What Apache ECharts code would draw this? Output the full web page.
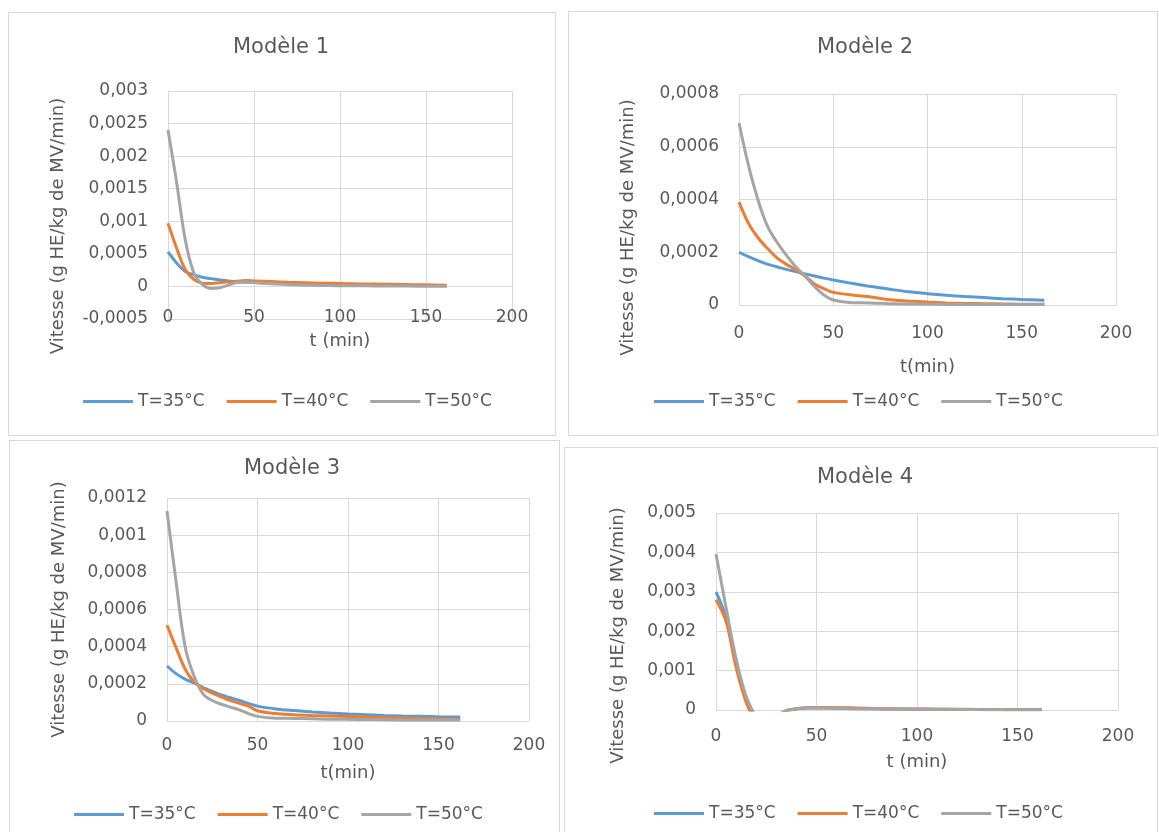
<!DOCTYPE html>
<html>
<head>
<meta charset="utf-8">
<script src="https://cdn.jsdelivr.net/npm/echarts@6/dist/echarts.min.js"></script>
<style>
  html, body { margin: 0; padding: 0; background: #ffffff; }
  body { width: 1159px; height: 832px; position: relative; overflow: hidden; }
  .panel { position: absolute; border: 1px solid #d9d9d9; box-sizing: border-box; background: #fff; }
</style>
</head>
<body>
<div id="p1" class="panel" style="left:8px;top:12px;width:548px;height:424px;"></div>
<div id="p2" class="panel" style="left:568px;top:11px;width:590px;height:425px;"></div>
<div id="p3" class="panel" style="left:9px;top:440px;width:551px;height:400px;"></div>
<div id="p4" class="panel" style="left:564px;top:447px;width:594px;height:400px;"></div>
<script>
// ---- data ----
const seriesNames = ['T=35°C', 'T=40°C', 'T=50°C'];
const titles = ['Modèle 1', 'Modèle 2', 'Modèle 3', 'Modèle 4'];
const xNames = ['t (min)', 't(min)', 't(min)', 't (min)'];
const yName = 'Vitesse (g HE/kg de MV/min)';
const t = [0, 5, 10, 15, 20, 25, 30, 35, 40, 45, 50, 60, 70, 80, 90, 100, 110, 120, 130, 140, 150, 162];

const m1_35 = [0.00053, 0.00036, 0.00023, 0.00018, 0.00014, 0.00012, 0.0001, 0.000085, 0.00007, 0.000065, 0.00006, 0.00005, 0.000045, 0.00004, 0.000035, 0.00003, 0.000027, 0.000024, 0.00002, 0.000017, 0.000014, 0.00001];
const m1_40 = [0.00097, 0.00059, 0.00026, 0.00011, 0.00005, 0.000045, 0.000055, 0.00007, 0.00008, 0.00009, 0.000085, 0.000075, 0.000065, 0.000058, 0.00005, 0.000045, 0.00004, 0.000036, 0.000032, 0.000028, 0.000025, 0.00002];
const m1_50 = [0.0024, 0.0016, 0.00072, 0.00021, 0.00003, -0.00003, -0.00002, 0.00002, 0.00006, 0.00007, 0.00006, 0.00004, 0.00003, 0.00002, 0.000015, 0.00001, 0.00001, 0.000008, 0.000006, 0.000005, 0.000004, 0.000003];

const m2_35 = [0.0002, 0.000183, 0.000168, 0.000155, 0.000145, 0.000135, 0.000127, 0.000118, 0.00011, 0.000102, 0.000095, 0.000082, 0.00007, 0.00006, 0.00005, 0.000043, 0.000037, 0.000032, 0.000028, 0.000024, 0.000021, 0.000018];
const m2_40 = [0.00039, 0.00031, 0.000256, 0.000215, 0.00018, 0.000155, 0.000135, 0.00011, 0.00008, 0.000062, 0.000048, 0.000038, 0.00003, 0.00002, 0.000015, 0.000011, 0.000008, 0.000006, 0.000005, 0.000004, 0.000003, 0.000003];
const m2_50 = [0.00069, 0.00053, 0.0004, 0.0003, 0.00024, 0.00019, 0.000146, 0.00011, 0.00007, 0.000038, 0.000019, 0.000009, 0.000008, 0.000005, 0.000004, 0.000003, 0.000002, 0.000002, 0.000002, 0.000002, 0.000002, 0.000002];

const m3_35 = [0.000296, 0.000255, 0.000225, 0.000205, 0.00018, 0.00016, 0.00014, 0.000125, 0.00011, 0.000095, 0.00008, 0.000065, 0.000056, 0.000049, 0.000043, 0.000038, 0.000034, 0.00003, 0.000027, 0.000025, 0.000023, 0.000021];
const m3_40 = [0.000516, 0.000395, 0.00028, 0.00021, 0.000175, 0.00015, 0.00013, 0.00011, 0.000095, 0.00008, 0.000055, 0.00004, 0.000034, 0.00003, 0.000027, 0.000024, 0.000021, 0.000018, 0.000016, 0.000014, 0.000012, 0.00001];
const m3_50 = [0.00113, 0.00075, 0.0004, 0.00024, 0.000145, 0.00011, 0.00009, 0.000075, 0.00006, 0.00004, 0.000025, 0.000015, 0.000014, 0.000012, 0.00001, 0.000009, 0.000008, 0.000007, 0.000006, 0.000006, 0.000005, 0.000005];

const m4_35 = [0.003, 0.00235, 0.0012, 0.0003, -0.0002, -0.0003, -0.0002, -0.00003, 0.00003, 0.00005, 0.00006, 0.00005, 0.00004, 0.00003, 0.000025, 0.00002, 0.000018, 0.000015, 0.000012, 0.00001, 0.000008, 0.000007];
const m4_40 = [0.0028, 0.00225, 0.00108, 0.0002, -0.00025, -0.0003, -0.00015, -0.00001, 0.00003, 0.00006, 0.00006, 0.00006, 0.00005, 0.00004, 0.00003, 0.000025, 0.00002, 0.000018, 0.000015, 0.000012, 0.00001, 0.00001];
const m4_50 = [0.00396, 0.0026, 0.0013, 0.00035, -0.00015, -0.0003, -0.0002, -0.00003, 0.00003, 0.00005, 0.00005, 0.00004, 0.00003, 0.00003, 0.00002, 0.00002, 0.000015, 0.000012, 0.00001, 0.000008, 0.000006, 0.000005];

const yMin = [-0.0005, 0, 0, 0];
const yMax = [0.003, 0.0008, 0.0012, 0.005];
const yStep = [0.0005, 0.0002, 0.0002, 0.001];
const xMin = 0, xMax = 200, xStep = 50;

const panelData = [[m1_35, m1_40, m1_50], [m2_35, m2_40, m2_50], [m3_35, m3_40, m3_50], [m4_35, m4_40, m4_50]];

// ---- layout / style ----
const colors = ['#5B9BD5', '#ED7D31', '#A5A5A5'];
const FONT = 'DejaVu Sans';
const TXT = '#595959';
const GRID_C = '#d9d9d9';
const layout = [
  { grid: { left: 159, top: 78, width: 344, height: 228 }, titleX: 267, titleY: 19, legendX: 69, legendY: 375, xLabMargin: 23, xNameGap: 46, yNameGap: 101, yShift: 21 },
  { grid: { left: 170, top: 82, width: 377, height: 211 }, titleX: 291, titleY: 20, legendX: 80, legendY: 376, xLabMargin: 20, xNameGap: 53, yNameGap: 102, yShift: 28 },
  { grid: { left: 157, top: 57, width: 362, height: 223 }, titleX: 277, titleY: 12, legendX: 59, legendY: 360, xLabMargin: 16, xNameGap: 43, yNameGap: 99, yShift: 0 },
  { grid: { left: 151, top: 65, width: 402, height: 197 }, titleX: 295, titleY: 14, legendX: 84, legendY: 352, xLabMargin: 18, xNameGap: 43, yNameGap: 89, yShift: 24 }
];

function fmt(v) { return String(+v.toFixed(6)).replace('.', ','); }

['p1', 'p2', 'p3', 'p4'].forEach(function (id, k) {
  const L = layout[k];
  // x axis drawn at y = 0 (like the reference): shift it up from the grid bottom
  const zeroOffset = -L.grid.height * (0 - yMin[k]) / (yMax[k] - yMin[k]);
  const chart = echarts.init(document.getElementById(id), null, { renderer: 'canvas' });
  chart.setOption({
    animation: false,
    title: {
      text: titles[k], left: L.titleX, top: L.titleY, textAlign: 'center',
      textStyle: { fontFamily: FONT, fontSize: 21, fontWeight: 'normal', color: TXT }
    },
    legend: {
      data: seriesNames, left: L.legendX, top: L.legendY, itemWidth: 50, itemHeight: 3, itemGap: 22,
      icon: 'rect',
      textStyle: { fontFamily: FONT, fontSize: 17, color: TXT }
    },
    grid: L.grid,
    xAxis: {
      type: 'value', min: xMin, max: xMax, interval: xStep,
      offset: zeroOffset,
      name: xNames[k], nameLocation: 'middle', nameGap: L.xNameGap,
      nameTextStyle: { fontFamily: FONT, fontSize: 18, color: TXT },
      axisLine: { show: true, onZero: false, lineStyle: { color: GRID_C, width: 1 } },
      axisTick: { show: false },
      axisLabel: { margin: L.xLabMargin, fontFamily: FONT, fontSize: 17, color: TXT },
      splitLine: { show: true, lineStyle: { color: GRID_C, width: 1 } }
    },
    yAxis: {
      type: 'value', min: yMin[k], max: yMax[k], interval: yStep[k],
      name: yName, nameLocation: 'middle', nameGap: L.yNameGap,
      nameTextStyle: { fontFamily: FONT, fontSize: 18, color: TXT, padding: [0, 2 * L.yShift, 0, 0] },
      axisLine: { show: false }, axisTick: { show: false },
      axisLabel: { margin: 20, fontFamily: FONT, fontSize: 17, color: TXT, formatter: fmt },
      splitLine: { show: true, lineStyle: { color: GRID_C, width: 1 } }
    },
    series: panelData[k].map(function (arr, i) {
      return {
        name: seriesNames[i], type: 'line', smooth: 0.35, symbol: 'none', clip: true,
        lineStyle: { color: colors[i], width: 3 }, itemStyle: { color: colors[i] },
        data: t.map(function (x, j) { return [x, arr[j]]; })
      };
    })
  });
});
</script>
</body>
</html>
